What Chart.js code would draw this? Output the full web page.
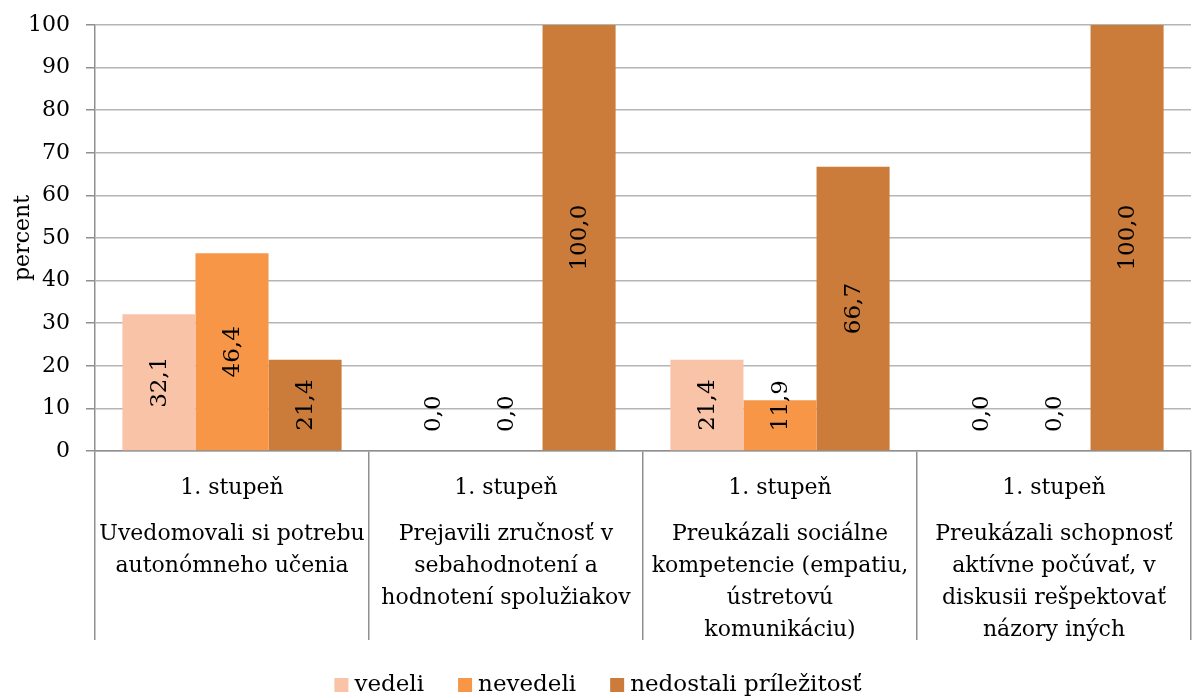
<!DOCTYPE html>
<html>
<head>
<meta charset="utf-8">
<script src="https://cdn.jsdelivr.net/npm/chart.js@4/dist/chart.umd.min.js"></script>
<style>
  html, body { margin: 0; padding: 0; background: #fff; }
  #wrap { width: 1196px; height: 698px; }
</style>
</head>
<body>
<div id="wrap"><canvas id="myChart" width="1196" height="698"></canvas></div>
<script>
// chart data
var levelLabels = ['1. stupeň', '1. stupeň', '1. stupeň', '1. stupeň'];
var groupLabels = [
    ['Uvedomovali si potrebu', 'autonómneho učenia'],
    ['Prejavili zručnosť v', 'sebahodnotení a', 'hodnotení spolužiakov'],
    ['Preukázali sociálne', 'kompetencie (empatiu,', 'ústretovú', 'komunikáciu)'],
    ['Preukázali schopnosť', 'aktívne počúvať, v', 'diskusii rešpektovať', 'názory iných']
];
var seriesNames = ['vedeli', 'nevedeli', 'nedostali príležitosť'];
var vedeli = [32.1, 0.0, 21.4, 0.0];
var nevedeli = [46.4, 0.0, 11.9, 0.0];
var nedostali = [21.4, 100.0, 66.7, 100.0];
var yTicks = [0, 10, 20, 30, 40, 50, 60, 70, 80, 90, 100];

var colors = ['#F9C3A8', '#F79646', '#CB7B3A'];
var fontFamily = '"DejaVu Serif", serif';

// value labels, rotated, centred in the bar (kept clear of the axis)
var valueLabels = {
    id: 'valueLabels',
    afterDatasetsDraw: function(chart) {
        var ctx = chart.ctx;
        ctx.save();
        ctx.font = '23px ' + fontFamily;
        ctx.fillStyle = '#000';
        ctx.textAlign = 'center';
        ctx.textBaseline = 'middle';
        chart.data.datasets.forEach(function(ds, i) {
            chart.getDatasetMeta(i).data.forEach(function(bar, j) {
                var txt = ds.data[j].toFixed(1).replace('.', ',');
                var w = ctx.measureText(txt).width;
                var cy = Math.min((bar.y + bar.base) / 2, bar.base - 19 - w / 2);
                ctx.save();
                ctx.translate(bar.x, cy);
                ctx.rotate(-Math.PI / 2);
                ctx.fillText(txt, 0, 1);
                ctx.restore();
            });
        });
        ctx.restore();
    }
};

// two level category labels + legend
var axisText = {
    id: 'axisText',
    afterDraw: function(chart) {
        var ctx = chart.ctx;
        var xs = chart.scales.x;
        var base = chart.chartArea.bottom;
        ctx.save();
        ctx.fillStyle = '#000';
        ctx.textAlign = 'center';
        ctx.textBaseline = 'middle';
        ctx.font = '22px ' + fontFamily;
        levelLabels.forEach(function(lbl, i) {
            var x = xs.getPixelForValue(i);
            ctx.fillText(lbl, x, base + 37);
            groupLabels[i].forEach(function(line, k) {
                ctx.fillText(line, x, base + 83 + k * 32);
            });
        });

        // legend, centred on the canvas
        ctx.font = '23px ' + fontFamily;
        ctx.textAlign = 'left';
        var total = 0;
        seriesNames.forEach(function(name, i) {
            total += 14 + 6 + ctx.measureText(name).width + (i < seriesNames.length - 1 ? 34 : 0);
        });
        var lx = (chart.width - total) / 2;
        var ly = 685;
        seriesNames.forEach(function(name, i) {
            ctx.fillStyle = colors[i];
            ctx.fillRect(lx, ly - 7, 14, 14);
            ctx.fillStyle = '#000';
            ctx.fillText(name, lx + 20, ly);
            lx += 20 + ctx.measureText(name).width + 34;
        });
        ctx.restore();
    }
};

var ctx = document.getElementById('myChart').getContext('2d');
var myChart = new Chart(ctx, {
    type: 'bar',
    data: {
        labels: levelLabels,
        datasets: [
            { label: seriesNames[0], data: vedeli, backgroundColor: colors[0] },
            { label: seriesNames[1], data: nevedeli, backgroundColor: colors[1] },
            { label: seriesNames[2], data: nedostali, backgroundColor: colors[2] }
        ]
    },
    options: {
        responsive: false,
        animation: false,
        devicePixelRatio: 1,
        layout: { padding: { top: 25, right: 5, bottom: 58, left: 0 } },
        datasets: { bar: { categoryPercentage: 0.8, barPercentage: 1.0 } },
        plugins: {
            legend: { display: false },
            tooltip: { enabled: false }
        },
        scales: {
            x: {
                grid: {
                    offset: true,
                    drawOnChartArea: false,
                    tickLength: 189,
                    color: '#8f8f8f',
                    lineWidth: 1.5
                },
                border: { color: '#8f8f8f', width: 1.5 },
                ticks: { display: false },
                afterFit: function(scale) { scale.height = 189; }
            },
            y: {
                min: 0,
                max: 100,
                afterBuildTicks: function(scale) {
                    scale.ticks = yTicks.map(function(v) { return { value: v }; });
                },
                grid: {
                    color: '#b5b5b5',
                    lineWidth: 1.5,
                    tickLength: 9,
                    tickColor: '#8f8f8f'
                },
                border: { color: '#8f8f8f', width: 1.5 },
                ticks: {
                    color: '#000',
                    padding: 16,
                    font: { family: fontFamily, size: 22 }
                },
                title: {
                    display: true,
                    text: 'percent',
                    color: '#000',
                    padding: { top: 10, bottom: 0 },
                    font: { family: fontFamily, size: 22 }
                },
                afterFit: function(scale) {
                    scale.width = 95;
                    scale.paddingTop = 4;
                    scale.paddingBottom = 4;
                }
            }
        }
    },
    plugins: [valueLabels, axisText]
});
</script>
</body>
</html>
